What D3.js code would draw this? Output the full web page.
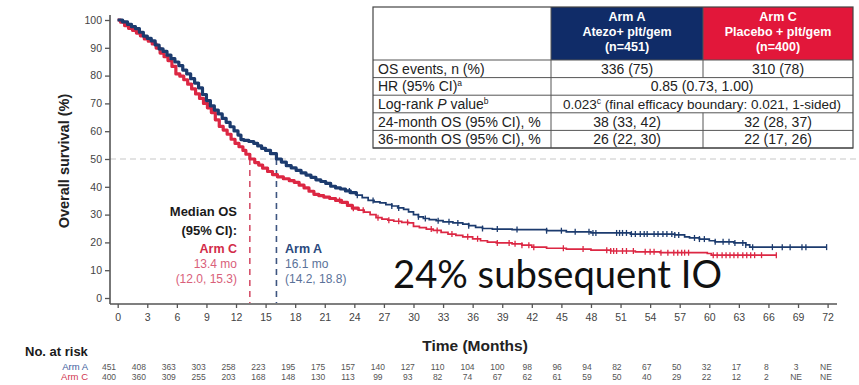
<!DOCTYPE html>
<html>
<head>
<meta charset="utf-8">
<script src="https://cdn.jsdelivr.net/npm/d3@7"></script>
<style>
  body { margin: 0; background: #fff; }
  svg { display: block; }
</style>
</head>
<body>
<svg id="chart" width="859" height="385"></svg>
<script>
// Kaplan–Meier overall survival, Arm A (Atezo + plt/gem) vs Arm C (Placebo + plt/gem)
const monthTicks = [0, 3, 6, 9, 12, 15, 18, 21, 24, 27, 30, 33, 36, 39, 42, 45, 48, 51, 54, 57, 60, 63, 66, 69, 72];
const survTicks = [0, 10, 20, 30, 40, 50, 60, 70, 80, 90, 100];

const armATime = [0, 0.5, 1.0, 1.4, 1.8, 2.2, 2.6, 3.0, 3.4, 3.8, 4.2, 4.6, 5.0, 5.4, 5.8, 6.2, 6.6, 7.0, 7.4, 7.8,
  8.2, 8.6, 9.0, 9.4, 9.8, 10.2, 10.6, 11.0, 11.4, 11.8, 12.2, 12.5, 12.8, 13.3, 13.8, 14.2, 14.6, 15.0, 15.5, 16.1,
  16.6, 17.1, 17.6, 18.1, 18.6, 19.1, 19.6, 20.1, 20.6, 21.1, 21.6, 22.1, 22.6, 23.1, 23.6, 24.2, 24.8, 25.4, 26.0, 26.6,
  27.2, 27.8, 28.4, 29.0, 29.5, 30.0, 30.5, 31.0, 31.6, 32.3, 33.0, 34.0, 35.0, 35.6, 36.3, 37.0, 38.0, 40.0, 43.5, 45.5,
  48.0, 52.0, 56.5, 57.5, 58.0, 59.0, 60.0, 60.6, 62.5, 63.7, 64.1, 71.9];
const armASurv = [100, 99.3, 98.4, 97.6, 96.9, 95.6, 94.2, 93.4, 92.5, 91.0, 89.6, 88.7, 87.4, 86.1, 84.9, 83.6, 82.0, 80.6, 78.9, 77.3,
  75.6, 73.2, 71.0, 69.1, 67.6, 66.2, 64.6, 63.2, 61.6, 60.1, 58.6, 57.0, 56.7, 56.3, 55.6, 54.7, 53.8, 53.1, 51.9, 50.0,
  48.9, 47.6, 46.8, 45.9, 45.0, 44.2, 43.4, 42.5, 41.9, 41.2, 40.2, 39.6, 39.2, 38.5, 37.9, 37.0, 36.1, 35.1, 34.6, 34.2,
  33.6, 33.1, 32.4, 31.9, 31.0, 30.0, 29.2, 28.6, 28.2, 27.8, 27.4, 27.0, 26.6, 26.0, 25.4, 25.0, 24.8, 24.6, 24.2, 23.8,
  23.4, 23.0, 22.7, 22.0, 21.6, 21.2, 20.6, 20.2, 19.8, 19.1, 18.3, 18.3];

const armCTime = [0, 0.3, 0.7, 1.1, 1.5, 1.9, 2.3, 2.7, 3.1, 3.5, 3.9, 4.3, 4.7, 5.1, 5.5, 5.9, 6.3, 6.7, 7.1, 7.5,
  7.9, 8.3, 8.7, 9.1, 9.5, 9.9, 10.3, 10.7, 11.1, 11.5, 11.9, 12.3, 12.7, 13.0, 13.4, 13.9, 14.3, 14.7, 15.2, 15.7,
  16.2, 16.8, 17.4, 17.9, 18.4, 18.9, 19.4, 19.9, 20.4, 20.9, 21.5, 22.1, 22.7, 23.3, 23.8, 24.4, 25.0, 25.6, 26.2, 26.8,
  27.4, 28.0, 28.8, 29.5, 30.0, 30.6, 31.3, 32.0, 32.8, 33.5, 34.3, 35.0, 36.0, 36.8, 37.5, 38.4, 40.0, 41.0, 42.0, 43.5,
  45.5, 48.0, 50.0, 52.5, 55.0, 59.8, 60.2, 66.8];
const armCSurv = [100, 99.2, 98.0, 97.0, 96.3, 95.3, 94.3, 93.2, 92.4, 91.4, 89.9, 88.1, 86.8, 85.4, 83.3, 80.6, 79.8, 78.5, 76.9, 75.2,
  73.4, 71.8, 70.0, 68.4, 66.7, 64.1, 61.7, 60.4, 58.9, 57.1, 55.6, 54.4, 53.1, 51.7, 50.0, 48.7, 47.8, 46.7, 45.5, 44.4,
  43.6, 42.9, 42.2, 41.6, 40.6, 39.6, 38.4, 37.3, 36.8, 36.3, 35.8, 35.1, 34.4, 33.3, 32.3, 31.6, 30.9, 30.0, 28.9, 28.4,
  28.0, 27.6, 27.2, 27.0, 25.8, 25.3, 24.8, 24.3, 23.6, 23.0, 22.5, 22.0, 21.3, 20.6, 20.1, 19.8, 19.5, 19.0, 18.3, 17.9,
  17.6, 17.2, 16.9, 16.6, 16.3, 16.0, 15.4, 15.4];

// censoring times (tick marks)
const armACensor = [23.5, 24.3, 25.9, 27.8, 28.5, 30.5, 31.2, 32.5, 33.6, 34.5, 35.6, 37.0, 38.5, 40.5, 43.5, 45.0, 46.4,
  47.8, 48.2, 48.5, 50.6, 50.9, 51.2, 51.6, 52.1, 52.5, 53.0, 53.4, 53.7, 54.4, 54.8, 55.3, 55.7, 56.2, 56.5, 56.9,
  58.5, 59.0, 59.5, 60.6, 61.4, 62.0, 62.6, 63.4, 63.7, 64.4, 66.4, 67.4, 68.2, 69.4, 69.8, 71.9];
const armCCensor = [22.5, 23.9, 24.9, 26.4, 27.5, 28.5, 29.4, 31.8, 32.4, 33.9, 35.5, 36.5, 38.5, 39.7, 40.3, 41.0, 41.7,
  42.2, 45.2, 47.2, 49.6, 50.0, 50.3, 50.6, 51.2, 51.6, 52.3, 53.5, 54.0, 54.4, 55.1, 55.8, 56.4, 56.8, 57.2, 57.5,
  57.9, 60.4, 60.8, 61.3, 61.7, 62.1, 62.5, 62.9, 63.4, 63.8, 64.2, 64.6, 65.3, 66.8];

const medianA = 16.1, medianC = 13.4;

const atRiskA = ["451", "408", "363", "303", "258", "223", "195", "175", "157", "140", "127", "110", "104", "100", "98", "96", "94", "82", "67", "50", "32", "17", "8", "3", "NE"];
const atRiskC = ["400", "360", "309", "255", "203", "168", "148", "130", "113", "99", "93", "82", "74", "67", "62", "61", "59", "50", "40", "29", "22", "12", "2", "NE", "NE"];

const tableHeaderA = ["Arm A", "Atezo+ plt/gem", "(n=451)"];
const tableHeaderC = ["Arm C", "Placebo + plt/gem", "(n=400)"];
const tableRowLabels = ["OS events, n (%)", "HR (95% CI)", "Log-rank P value", "24-month OS (95% CI), %", "36-month OS (95% CI), %"];
const tableColA = ["336 (75)", null, null, "38 (33, 42)", "26 (22, 30)"];
const tableColC = ["310 (78)", null, null, "32 (28, 37)", "22 (17, 26)"];
const tableSpan = [null, "0.85 (0.73, 1.00)", "0.023", null, null];

const BLUE = "#1c3b6e", RED = "#dc2743";
const FONT = "'Liberation Sans', Arial, sans-serif";

const svg = d3.select("#chart");
const x = d3.scaleLinear().domain([0, 72]).range([117.7, 827.6]);
const y = d3.scaleLinear().domain([0, 100]).range([298, 20]);
const riskX = d3.scaleLinear().domain([0, 72]).range([109, 826]);

// 50% reference line
svg.append("line")
  .attr("x1", 110).attr("x2", 856).attr("y1", y(50)).attr("y2", y(50))
  .attr("stroke", "#c8c8c8").attr("stroke-width", 1.2).attr("stroke-dasharray", "6,4");

// axes
const yAxis = svg.append("g").attr("transform", "translate(110,0)")
  .call(d3.axisLeft(y).tickValues(survTicks).tickSize(5).tickSizeOuter(0).tickPadding(3));
yAxis.select(".domain").remove();
svg.append("line").attr("x1", 110).attr("x2", 110).attr("y1", 15).attr("y2", 304)
  .attr("stroke", "#555").attr("stroke-width", 1.6);

const xAxis = svg.append("g").attr("transform", "translate(0,304)")
  .call(d3.axisBottom(x).tickValues(monthTicks).tickSize(4).tickSizeOuter(0).tickPadding(6));
xAxis.select(".domain").remove();
svg.append("line").attr("x1", 110).attr("x2", 837).attr("y1", 304).attr("y2", 304)
  .attr("stroke", "#555").attr("stroke-width", 1.6);

[yAxis, xAxis].forEach(g => {
  g.selectAll(".tick line").attr("stroke", "#555").attr("stroke-width", 1.3);
  g.selectAll(".tick text").attr("fill", "#444").attr("font-family", FONT).attr("font-size", 10.5);
});

// axis titles
svg.append("text")
  .attr("transform", "translate(69,161) rotate(-90)")
  .attr("text-anchor", "middle").attr("font-family", FONT).attr("font-weight", "bold")
  .attr("font-size", 14.5).attr("fill", "#222").text("Overall survival (%)");
svg.append("text")
  .attr("x", 475).attr("y", 351).attr("text-anchor", "middle")
  .attr("font-family", FONT).attr("font-weight", "bold").attr("font-size", 15.5).attr("fill", "#222")
  .text("Time (Months)");

// median dashed lines
[[medianC, "#d5526b"], [medianA, "#3d5580"]].forEach(([m, c]) => {
  svg.append("line").attr("x1", x(m)).attr("x2", x(m)).attr("y1", y(50)).attr("y2", 303)
    .attr("stroke", c).attr("stroke-width", 1.6).attr("stroke-dasharray", "6,5");
});

// survival curves
function stepData(times, surv) { return times.map((t, i) => [t, surv[i]]); }
function survAt(times, surv, t) {
  const i = Math.max(0, d3.bisectRight(times, t) - 1);
  return surv[i];
}
const line = d3.line().x(d => x(d[0])).y(d => y(d[1])).curve(d3.curveStepAfter);

const arms = [
  { times: armCTime, surv: armCSurv, cens: armCCensor, color: RED },
  { times: armATime, surv: armASurv, cens: armACensor, color: BLUE }
];
arms.forEach(a => {
  const pts = stepData(a.times, a.surv);
  svg.append("path").datum(pts).attr("d", line)
    .attr("fill", "none").attr("stroke", a.color).attr("stroke-width", 1.7);
  svg.append("path").datum(pts.filter(d => d[0] <= 24.5)).attr("d", line)
    .attr("fill", "none").attr("stroke", a.color).attr("stroke-width", 3.2).attr("stroke-linejoin", "round");
  svg.append("g").selectAll("line").data(a.cens).join("line")
    .attr("x1", d => x(d)).attr("x2", d => x(d))
    .attr("y1", d => y(survAt(a.times, a.surv, d)) - 3)
    .attr("y2", d => y(survAt(a.times, a.surv, d)) + 3)
    .attr("stroke", a.color).attr("stroke-width", 1.3);
});

// median annotation text
const med = svg.append("g").attr("font-family", FONT);
med.append("text").attr("x", 237).attr("y", 216).attr("text-anchor", "end")
  .attr("font-weight", "bold").attr("font-size", 13).attr("fill", "#1a1a1a").text("Median OS");
med.append("text").attr("x", 237).attr("y", 235).attr("text-anchor", "end")
  .attr("font-weight", "bold").attr("font-size", 13).attr("fill", "#1a1a1a").text("(95% CI):");
med.append("text").attr("x", 237).attr("y", 253).attr("text-anchor", "end")
  .attr("font-weight", "bold").attr("font-size", 12.5).attr("fill", "#d22b48").text("Arm C");
med.append("text").attr("x", 237).attr("y", 268).attr("text-anchor", "end")
  .attr("font-size", 12).attr("fill", "#d9607a").text(medianC.toFixed(1) + " mo");
med.append("text").attr("x", 237).attr("y", 283).attr("text-anchor", "end")
  .attr("font-size", 12).attr("fill", "#d9607a").text("(12.0, 15.3)");
med.append("text").attr("x", 285).attr("y", 253)
  .attr("font-weight", "bold").attr("font-size", 12.5).attr("fill", "#2b4a7e").text("Arm A");
med.append("text").attr("x", 285).attr("y", 268)
  .attr("font-size", 12).attr("fill", "#5a7299").text(medianA.toFixed(1) + " mo");
med.append("text").attr("x", 285).attr("y", 283)
  .attr("font-size", 12).attr("fill", "#5a7299").text("(14.2, 18.8)");

// subsequent IO note
const note = svg.append("text").attr("x", 393).attr("y", 288)
  .attr("font-family", "Lato, 'Open Sans', sans-serif").attr("font-size", 40).attr("fill", "#111")
  .text("24% subsequent IO");
const w = note.node().getComputedTextLength();
note.attr("font-size", 40 * 329 / w);

// summary table
const tbl = svg.append("g").attr("font-family", FONT);
const tx0 = 373, tx1 = 551, tx2 = 703, tx3 = 853, ty0 = 7, tyH = 60, rowH = 17.6;
tbl.append("rect").attr("x", tx1).attr("y", ty0).attr("width", tx2 - tx1).attr("height", tyH - ty0).attr("fill", "#102c68");
tbl.append("rect").attr("x", tx2).attr("y", ty0).attr("width", tx3 - tx2).attr("height", tyH - ty0).attr("fill", "#e2173a");
[[tableHeaderA, (tx1 + tx2) / 2], [tableHeaderC, (tx2 + tx3) / 2]].forEach(([lines, cx]) => {
  lines.forEach((s, i) => {
    tbl.append("text").attr("x", cx).attr("y", 21 + i * 15).attr("text-anchor", "middle")
      .attr("font-weight", "bold").attr("font-size", 12.5).attr("fill", "#fff").text(s);
  });
});
const tyEnd = tyH + rowH * tableRowLabels.length;
// grid lines
for (let i = 0; i <= tableRowLabels.length; i++) {
  tbl.append("line").attr("x1", tx0).attr("x2", tx3).attr("y1", tyH + i * rowH).attr("y2", tyH + i * rowH)
    .attr("stroke", "#555").attr("stroke-width", 1);
}
tbl.append("line").attr("x1", tx1).attr("x2", tx1).attr("y1", ty0).attr("y2", tyEnd).attr("stroke", "#555");
[0, 3, 4].forEach(r => {
  tbl.append("line").attr("x1", tx2).attr("x2", tx2).attr("y1", tyH + r * rowH).attr("y2", tyH + (r + 1) * rowH).attr("stroke", "#555");
});
tbl.append("line").attr("x1", tx2).attr("x2", tx2).attr("y1", ty0).attr("y2", tyH).attr("stroke", "#555");
tbl.append("rect").attr("x", tx0).attr("y", ty0).attr("width", tx3 - tx0).attr("height", tyEnd - ty0)
  .attr("fill", "none").attr("stroke", "#444").attr("stroke-width", 1.2);

tableRowLabels.forEach((lab, i) => {
  const cy = tyH + i * rowH + rowH / 2 + 5;
  const t = tbl.append("text").attr("x", tx0 + 5).attr("y", cy).attr("font-size", 14).attr("fill", "#222");
  if (i === 1) {
    t.text("HR (95% CI)");
    t.append("tspan").attr("font-size", 8.5).attr("dy", -5).text("a");
  } else if (i === 2) {
    t.append("tspan").text("Log-rank ");
    t.append("tspan").attr("font-style", "italic").text("P");
    t.append("tspan").text(" value");
    t.append("tspan").attr("font-size", 8.5).attr("dy", -5).text("b");
  } else {
    t.text(lab);
  }
  if (tableColA[i]) tbl.append("text").attr("x", (tx1 + tx2) / 2).attr("y", cy).attr("text-anchor", "middle")
    .attr("font-size", 14).attr("fill", "#222").text(tableColA[i]);
  if (tableColC[i]) tbl.append("text").attr("x", (tx2 + tx3) / 2).attr("y", cy).attr("text-anchor", "middle")
    .attr("font-size", 14).attr("fill", "#222").text(tableColC[i]);
  if (tableSpan[i]) {
    const s = tbl.append("text").attr("x", (tx1 + tx3) / 2).attr("y", cy).attr("text-anchor", "middle")
      .attr("font-size", 13.5).attr("fill", "#222");
    if (i === 2) {
      s.append("tspan").text(tableSpan[i]);
      s.append("tspan").attr("font-size", 8.5).attr("dy", -5).text("c");
      s.append("tspan").attr("dy", 5).text(" (final efficacy boundary: 0.021, 1-sided)");
    } else {
      s.attr("font-size", 14).text(tableSpan[i]);
    }
  }
});

// number at risk
const risk = svg.append("g").attr("font-family", FONT);
risk.append("text").attr("x", 25).attr("y", 356).attr("font-weight", "bold").attr("font-size", 13)
  .attr("fill", "#1a1a1a").text("No. at risk");
risk.append("text").attr("x", 88).attr("y", 370).attr("text-anchor", "end").attr("font-size", 9.5)
  .attr("fill", "#3c5d9c").text("Arm A");
risk.append("text").attr("x", 88).attr("y", 380).attr("text-anchor", "end").attr("font-size", 9.5)
  .attr("fill", "#d0364f").text("Arm C");
[[atRiskA, 370], [atRiskC, 380]].forEach(([vals, yy]) => {
  risk.append("g").selectAll("text").data(vals).join("text")
    .attr("x", (d, i) => riskX(monthTicks[i])).attr("y", yy).attr("text-anchor", "middle")
    .attr("font-size", 8.5).attr("fill", "#555").text(d => d);
});
</script>
</body>
</html>
